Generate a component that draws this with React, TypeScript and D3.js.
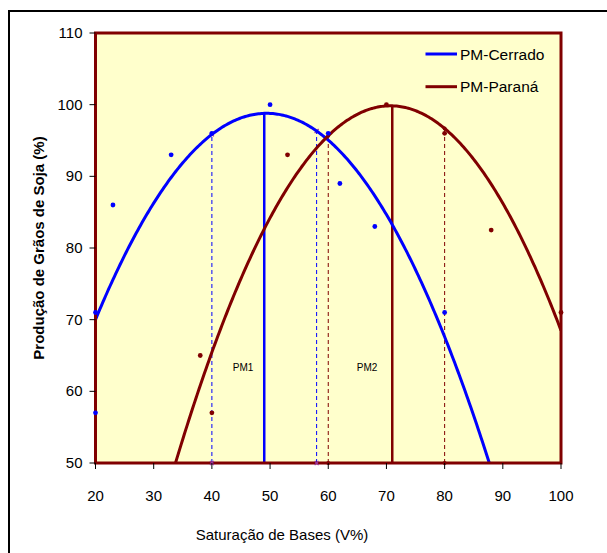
import React from "react";
import * as d3 from "d3";

// Observed yields (%) against base saturation (V%)
const cerradoV = [20, 20, 23, 33, 40, 50, 60, 62, 68, 80];
const cerradoYield = [71, 57, 86, 93, 96, 100, 96, 89, 83, 71];
const paranaV = [38, 40, 53, 70, 80, 88, 100];
const paranaYield = [65, 57, 93, 100, 96, 82.5, 71];

// Quadratic trend coefficients [c0, c1, c2]: y = c0 + c1*x + c2*x^2
const cerradoCoef = [17.53, 3.29, -0.0333];
const paranaCoef = [-82.6, 5.161, -0.0365];

// Maximum-efficiency points (solid) and 90% range limits (dashed)
const pmCerrado = 49;
const pmParana = 71;
const cerradoRange = [40, 58];
const paranaRange = [60, 80];

const xTicks = [20, 30, 40, 50, 60, 70, 80, 90, 100];
const yTicks = [50, 60, 70, 80, 90, 100, 110];
const seriesNames = ["PM-Cerrado", "PM-Paraná"];

const BLUE = "#0000FF";
const RED = "#800000";
const FONT = "'Liberation Sans', Arial, sans-serif";

const left = 95.5;
const right = 561;
const top = 33;
const bottom = 463;

export default function App() {
  const x = d3.scaleLinear().domain([20, 100]).range([left, right]);
  const y = d3.scaleLinear().domain([50, 110]).range([bottom, top]);

  const poly = (c: number[]) => (v: number) => c[0] + c[1] * v + c[2] * v * v;
  const fC = poly(cerradoCoef);
  const fP = poly(paranaCoef);

  const samples = d3.range(20, 100.001, 0.25);
  const line = d3
    .line<number>()
    .x((v) => x(v))
    .curve(d3.curveLinear);
  const pathC = line.y((v) => y(fC(v)))(samples) || "";
  const pathP = line.y((v) => y(fP(v)))(samples) || "";

  return (
    <div style={{ position: "absolute", left: 0, top: 0 }}>
      <svg width={607} height={553} style={{ display: "block", fontFamily: FONT }}>
        <rect x={0} y={0} width={607} height={553} fill="#fff" />
        <rect x={9} y={11} width={640} height={600} fill="none" stroke="#000" strokeWidth={2} />

        <defs>
          <clipPath id="plotClip">
            <rect x={left} y={top} width={right - left} height={bottom - top} />
          </clipPath>
        </defs>

        <rect x={left} y={top} width={right - left} height={bottom - top} fill="#FFFFCC" />

        <g clipPath="url(#plotClip)">
          {/* dashed range limits */}
          {cerradoRange.map((v) => (
            <line key={"cd" + v} x1={x(v)} x2={x(v)} y1={y(50)} y2={y(fC(v))}
              stroke={BLUE} strokeWidth={1} strokeDasharray="4,3" />
          ))}
          {paranaRange.map((v) => (
            <line key={"pd" + v} x1={x(v)} x2={x(v)} y1={y(50)} y2={y(fP(v))}
              stroke={RED} strokeWidth={1} strokeDasharray="4,3" />
          ))}
          {cerradoRange.map((v) => (
            <g key={"cm" + v} stroke="#993399" strokeWidth={1.2}>
              <line x1={x(v) - 2} x2={x(v) + 2} y1={y(fC(v)) - 2} y2={y(fC(v)) + 2} />
              <line x1={x(v) + 2} x2={x(v) - 2} y1={y(fC(v)) - 2} y2={y(fC(v)) + 2} />
            </g>
          ))}
          {paranaRange.map((v) => (
            <g key={"pm" + v} fill={RED}>
              <circle cx={x(v)} cy={y(fP(v))} r={2} />
            </g>
          ))}

          {/* maximum-efficiency verticals */}
          <line x1={x(pmCerrado)} x2={x(pmCerrado)} y1={y(50)} y2={y(fC(pmCerrado))}
            stroke={BLUE} strokeWidth={2.5} />
          <line x1={x(pmParana)} x2={x(pmParana)} y1={y(50)} y2={y(fP(pmParana))}
            stroke={RED} strokeWidth={2.5} />

          {/* trend curves */}
          <path d={pathC} fill="none" stroke={BLUE} strokeWidth={3} />
          <path d={pathP} fill="none" stroke={RED} strokeWidth={3} />
        </g>

        <rect x={left} y={top} width={right - left} height={bottom - top}
          fill="none" stroke={RED} strokeWidth={3} />

        {/* range-limit markers on the baseline */}
        {cerradoRange.map((v) => (
          <g key={"cb" + v} stroke="#993399" strokeWidth={1.2}>
            <line x1={x(v) - 2} x2={x(v) + 2} y1={y(50) - 2} y2={y(50) + 2} />
            <line x1={x(v) + 2} x2={x(v) - 2} y1={y(50) - 2} y2={y(50) + 2} />
          </g>
        ))}
        {paranaRange.map((v) => (
          <circle key={"pb" + v} cx={x(v)} cy={y(50)} r={2} fill={RED} />
        ))}

        {/* observations */}
        {cerradoV.map((v, i) => (
          <circle key={"c" + i} cx={x(v)} cy={y(cerradoYield[i])} r={2.4} fill={BLUE} />
        ))}
        {paranaV.map((v, i) => (
          <circle key={"p" + i} cx={x(v)} cy={y(paranaYield[i])} r={2.4} fill={RED} />
        ))}

        <text x={243} y={371} fontSize={10} textAnchor="middle" fill="#000">PM1</text>
        <text x={367} y={371} fontSize={10} textAnchor="middle" fill="#000">PM2</text>

        {/* axes */}
        {yTicks.map((t) => (
          <g key={"yt" + t}>
            <line x1={left - 6} x2={left} y1={y(t)} y2={y(t)} stroke="#000" strokeWidth={1} />
            <text x={left - 13} y={y(t) + 5} fontSize={15} textAnchor="end" fill="#000">{t}</text>
          </g>
        ))}
        {xTicks.map((t) => (
          <g key={"xt" + t}>
            <line x1={x(t)} x2={x(t)} y1={bottom} y2={bottom + 6} stroke="#000" strokeWidth={1} />
            <text x={x(t)} y={bottom + 38} fontSize={15} textAnchor="middle" fill="#000">{t}</text>
          </g>
        ))}

        <text x={282} y={540} fontSize={15} textAnchor="middle" fill="#000">Saturação de Bases (V%)</text>
        <text transform={`translate(44,${(top + bottom) / 2}) rotate(-90)`} fontSize={15}
          fontWeight="bold" textAnchor="middle" fill="#000">Produção de Grãos de Soja (%)</text>

        {/* legend */}
        {seriesNames.map((s, i) => (
          <g key={s} transform={`translate(0,${54 + i * 32.7})`}>
            <line x1={425.5} x2={457} y1={0} y2={0} stroke={i === 0 ? BLUE : RED} strokeWidth={3} />
            <text x={460} y={5.5} fontSize={15.5} fill="#000">{s}</text>
          </g>
        ))}
      </svg>
    </div>
  );
}
